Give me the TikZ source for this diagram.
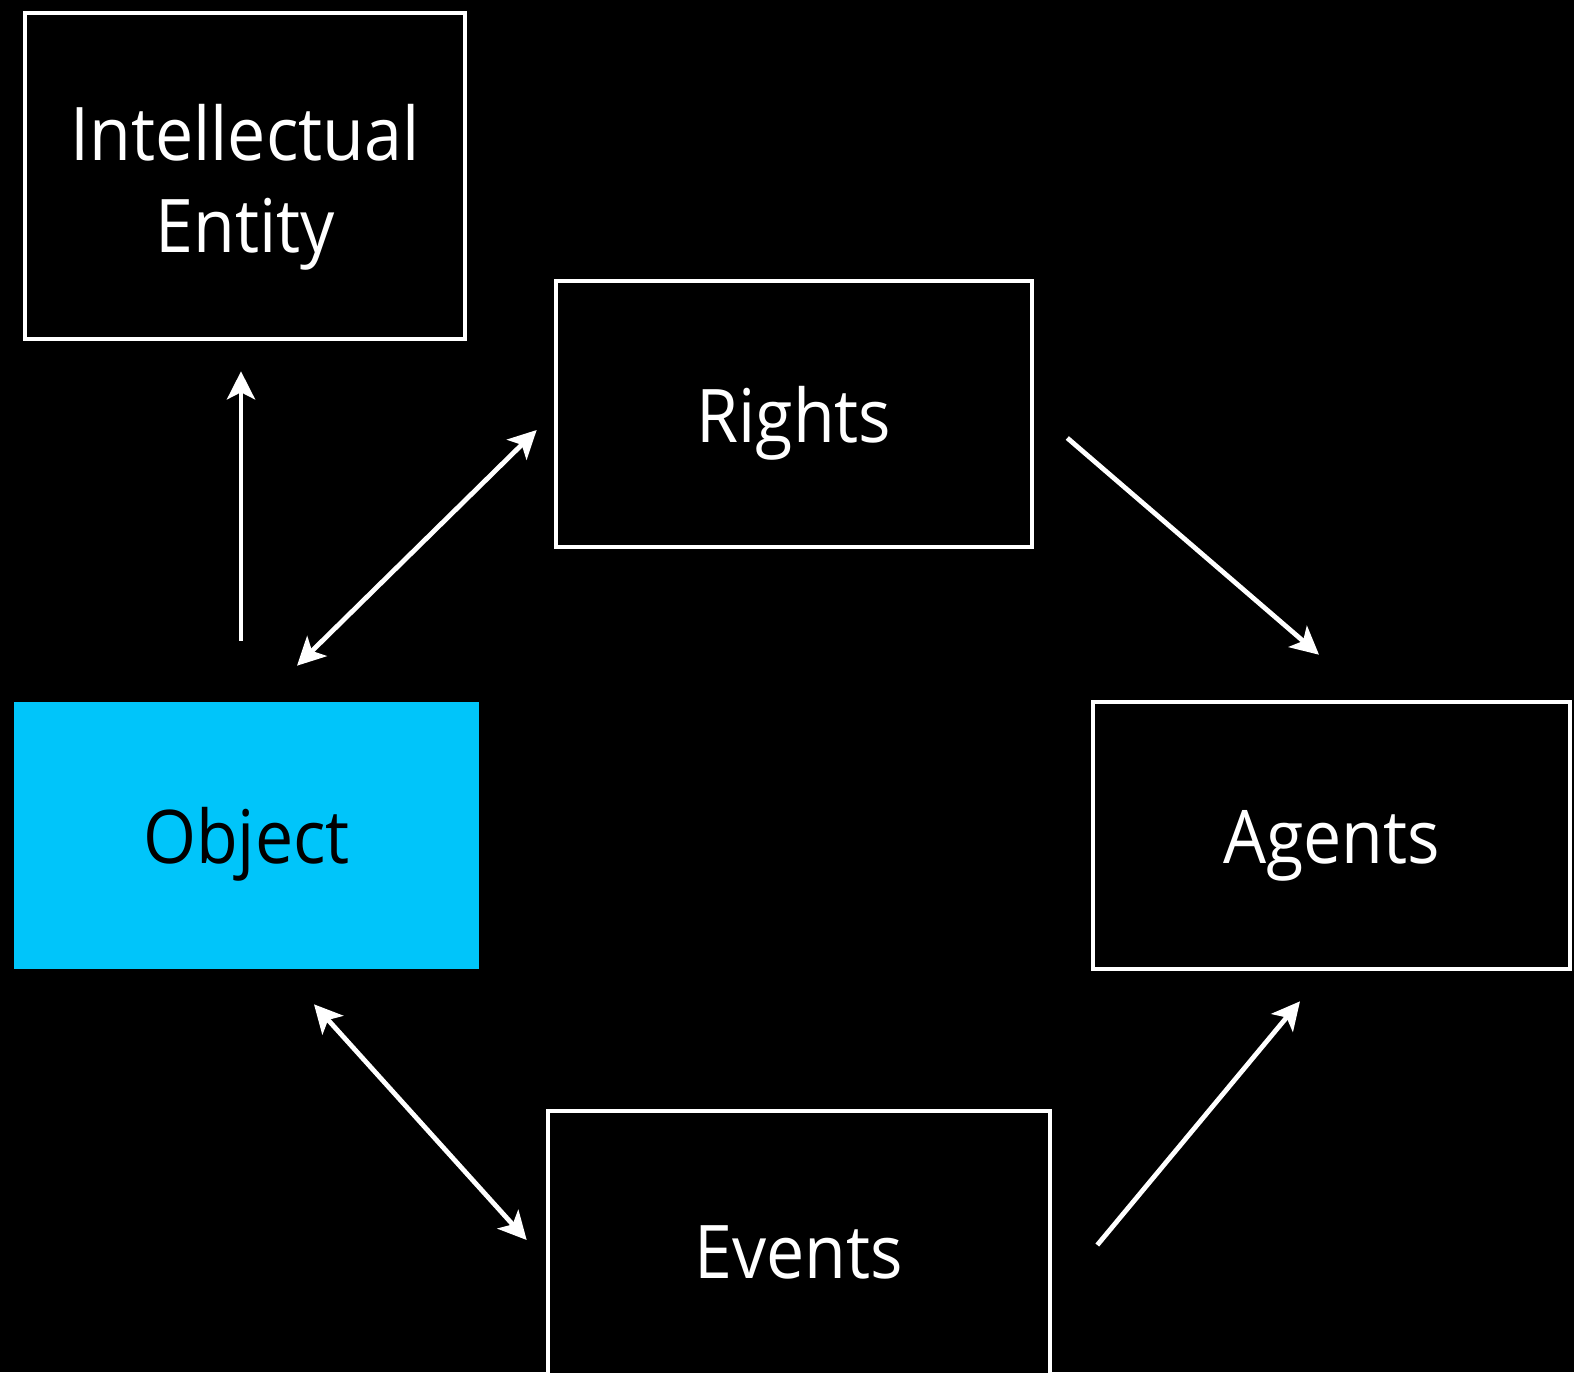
\documentclass[tikz,border=0pt]{standalone}
\usepackage{fontspec}
\setmainfont{Open Sans}[FakeStretch=0.92]
\usetikzlibrary{arrows.meta,calc}
\definecolor{objcyan}{RGB}{0,197,250}
\tikzset{
  box/.style={draw=white, line width=2.3pt, fill=black, text=white, inner sep=0pt,
    font=\fontsize{37}{46}\selectfont, text height=28pt, text depth=0pt},
  lbl/.style={text=white, inner sep=0pt, font=\fontsize{37}{46}\selectfont},
  tip/.style={Stealth[length=14pt, width=14pt, inset=3.5pt]},
  link/.style={draw=white, line width=2.4pt, -{Stealth[length=14pt, width=14pt, inset=3.5pt]}},
  both/.style={link, {Stealth[length=14pt, width=14pt, inset=3.5pt]}-{Stealth[length=14pt, width=14pt, inset=3.5pt]}}
}
\begin{document}
\begin{tikzpicture}[x=0.5pt, y=-0.5pt]
  % page and background
  \clip (0,0) rectangle (1574,1372);
  \fill[black] (0,0) rectangle (1574,1372);

  % boxes
  \node[box, minimum width=220pt, minimum height=163pt] (ie) at (245,176) {};
  \node[lbl, anchor=base] (ie1) at (245,160) {Intellectual};
  \node[lbl, anchor=base] (ie2) at (245,252) {Entity};
  \node[box, minimum width=238pt, minimum height=133pt] (rights) at (794,414) {Rights};
  \node[box, draw=none, fill=objcyan, text=black, minimum width=232.5pt, minimum height=133.5pt] (obj) at (246.5,835.5) {Object};
  \node[box, minimum width=238.5pt, minimum height=133.5pt] (agents) at (1331.5,835.5) {Agents};
  \node[box, minimum width=251pt, minimum height=139pt] (events) at (799,1250) {Events};

  % connectors
  \draw[link] ($(obj.north)+(-5.5,-59)$) -- ($(ie.south)+(-4,30)$);
  \draw[both] ($(obj.north)+(50.5,-34)$) -- ($(rights.west)+(-17,16)$);
  \draw[link] ($(rights.east)+(33,24)$) -- ($(agents.north)+(-12.5,-45)$);
  \draw[both] ($(obj.south)+(67.5,33)$) -- ($(events.west)+(-19,-10)$);
  \draw[link] ($(events.east)+(45,-5)$) -- ($(agents.south)+(-31.5,30)$);
\end{tikzpicture}
\end{document}
